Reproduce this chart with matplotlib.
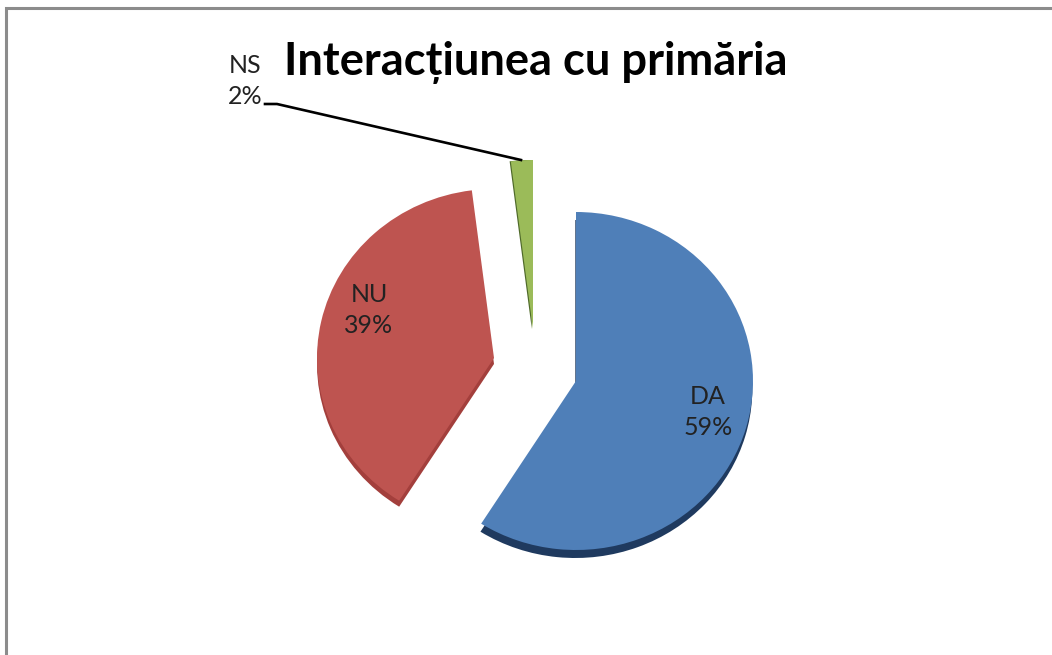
import matplotlib
matplotlib.use("Agg")
import matplotlib.pyplot as plt
from matplotlib.transforms import Affine2D

categories = ["DA", "NU", "NS"]
values = [59, 39, 2]
percent_labels = ["59%", "39%", "2%"]
title_text = "Interacțiunea cu primăria"

face_colors = ["#4F7FB8", "#BE5450", "#9BBB59"]
side_colors = ["#1F3A5F", "#A33F3C", "#4F6A2A"]
centers_px = [(576, 381), (494, 358), (533, 329)]
side_offsets = [(-0.7, 8), (0, 6), (-1.2, 0)]
label_px = [(708, 412), (369, 310), (245, 81)]
RX, RY = 177, 169
W, H = 1052, 655

fig = plt.figure(figsize=(W / 100, H / 100), dpi=100)
ax = fig.add_axes([0, 0, 1, 1])
plt.rcParams["font.family"] = ["Lato", "DejaVu Sans"]


def draw(colors, offsets, z):
    wedges, _ = ax.pie(values, colors=colors, startangle=90, counterclock=False,
                       wedgeprops=dict(linewidth=0))
    for w, (cx, cy), (dx, dy) in zip(wedges, centers_px, offsets):
        tr = Affine2D().scale(RX, RY).translate(cx + dx, H - cy - dy) + ax.transData
        w.set_transform(tr)
        w.set_zorder(z)


draw(side_colors, side_offsets, 2)
draw(face_colors, [(0, 0)] * 3, 3)
ax.set_aspect("auto")
ax.set_xlim(0, W)
ax.set_ylim(0, H)
ax.axis("off")

# border (only top and left visible in the reference)
ax.plot([6, 6, W], [0, H - 8, H - 8], color="#8C8C8C", lw=2.2, zorder=1,
        solid_joinstyle="miter", clip_on=False)

# leader line for NS
ax.plot([265, 277, 521], [H - 104, H - 104, H - 160], color="black", lw=1.9, zorder=5)

for cat, pct, (x, y) in zip(categories, percent_labels, label_px):
    ax.text(x, H - y, f"{cat}\n{pct}", ha="center", va="center", fontsize=18,
            color="#222222", linespacing=1.4, zorder=6)

ax.text(535.5, H - 63, title_text, ha="center", va="center", fontsize=32.6,
        fontweight="bold", color="black", zorder=6)

fig.savefig("out.png", dpi=100)
